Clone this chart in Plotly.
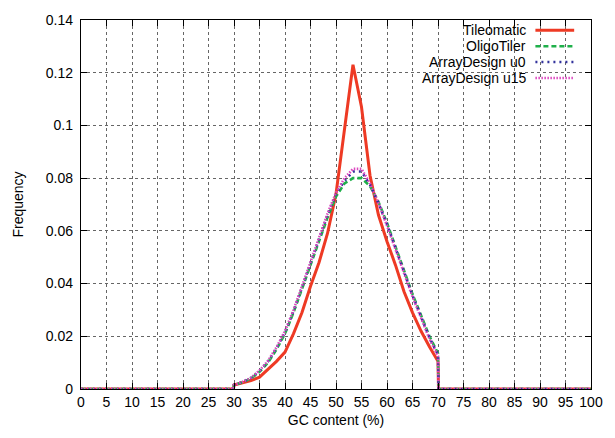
import plotly.graph_objects as go

# GC content (%) sample positions (probe GC bins), with zero edges
gc = [0, 29.9, 30.0, 31.67, 33.33, 35.0, 36.67, 38.33, 40.0, 41.67, 43.33, 45.0, 46.67,
      48.33, 50.0, 51.67, 53.33, 55.0, 56.67, 58.33, 60.0, 61.67, 63.33, 65.0,
      66.67, 68.33, 70.0, 70.1, 100]

tileomatic = [0, 0, 0.0015, 0.0023, 0.0032, 0.0045, 0.0075, 0.0105, 0.014, 0.021, 0.029,
              0.039, 0.048, 0.059, 0.074, 0.098, 0.123, 0.107, 0.081, 0.066, 0.056,
              0.047, 0.037, 0.029, 0.022, 0.016, 0.0105, 0, 0]
oligotiler = [0, 0, 0.0015, 0.0025, 0.004, 0.0065, 0.010, 0.015, 0.021, 0.029, 0.038,
              0.047, 0.056, 0.065, 0.073, 0.078, 0.080, 0.080, 0.077, 0.071, 0.063,
              0.054, 0.045, 0.036, 0.028, 0.020, 0.0135, 0, 0]
arraydesign_u0 = [0, 0, 0.0015, 0.0027, 0.0042, 0.0068, 0.0105, 0.0155, 0.0215, 0.0295,
                  0.0385, 0.0475, 0.0565, 0.066, 0.074, 0.079, 0.0825, 0.0825, 0.0775,
                  0.0705, 0.0625, 0.0535, 0.0445, 0.0355, 0.0275, 0.0195, 0.013, 0, 0]
arraydesign_u15 = [0, 0, 0.0015, 0.0027, 0.0043, 0.007, 0.0107, 0.0158, 0.022, 0.030,
                   0.039, 0.048, 0.057, 0.0665, 0.0745, 0.080, 0.0835, 0.0835, 0.078,
                   0.0705, 0.062, 0.053, 0.044, 0.035, 0.027, 0.019, 0.0125, 0, 0]

series_names = ["Tileomatic", "OligoTiler", "ArrayDesign u0", "ArrayDesign u15"]
series_values = [tileomatic, oligotiler, arraydesign_u0, arraydesign_u15]
colors = ["#ee3a24", "#1fb04a", "#32329c", "#dc48c0"]
dashes = ["solid", "5px,3px", "2px,4px", "1.5px,1.5px"]
widths = [3, 2.6, 2.6, 2.6]

x_ticks = list(range(0, 101, 5))
y_ticks = [0, 0.02, 0.04, 0.06, 0.08, 0.1, 0.12, 0.14]
y_tick_labels = ["0", "0.02", "0.04", "0.06", "0.08", "0.1", "0.12", "0.14"]

FONT = "Liberation Sans, Arial, sans-serif"

fig = go.Figure()
for name, vals, c, d, w in zip(series_names, series_values, colors, dashes, widths):
    fig.add_trace(go.Scatter(x=gc, y=vals, mode="lines", name=name,
                             line=dict(color=c, dash=d, width=w), showlegend=False))

# gnuplot-style legend: right-aligned text, sample line to the right
row_y = [0.972, 0.929, 0.886, 0.843]
for name, c, d, w, yy in zip(series_names, colors, dashes, widths, row_y):
    fig.add_annotation(x=0.875, y=yy, xref="paper", yref="paper", text=name,
                       showarrow=False, xanchor="right", yanchor="middle",
                       borderpad=0,
                       font=dict(family=FONT, size=14, color="black"))
    fig.add_shape(type="line", xref="paper", yref="paper", x0=0.891, x1=0.967,
                  y0=yy, y1=yy, line=dict(color=c, dash=d, width=w))

axis_common = dict(showline=True, linecolor="black", linewidth=1.3, mirror="ticks",
                   ticks="inside", ticklen=6, tickcolor="black", tickwidth=1,
                   showgrid=True, gridcolor="#666666", griddash="dot", gridwidth=1,
                   zeroline=False,
                   tickfont=dict(family=FONT, size=14, color="black"))

fig.update_xaxes(range=[0, 100], tickvals=x_ticks, ticktext=[str(t) for t in x_ticks],
                 title=dict(text="GC content (%)", font=dict(family=FONT, size=14, color="black"),
                            standoff=6),
                 **axis_common)
fig.update_yaxes(range=[0, 0.14], tickvals=y_ticks, ticktext=y_tick_labels,
                 ticklabelstandoff=4,
                 title=dict(text="Frequency", font=dict(family=FONT, size=14, color="black"),
                            standoff=18),
                 **axis_common)

fig.update_layout(width=615, height=438, margin=dict(l=81, r=13, t=15, b=43),
                  plot_bgcolor="white", paper_bgcolor="white", showlegend=False)

fig.write_html("out.html", config={"displayModeBar": False},
               post_script="document.body.style.margin='0';document.body.style.overflow='hidden';")
